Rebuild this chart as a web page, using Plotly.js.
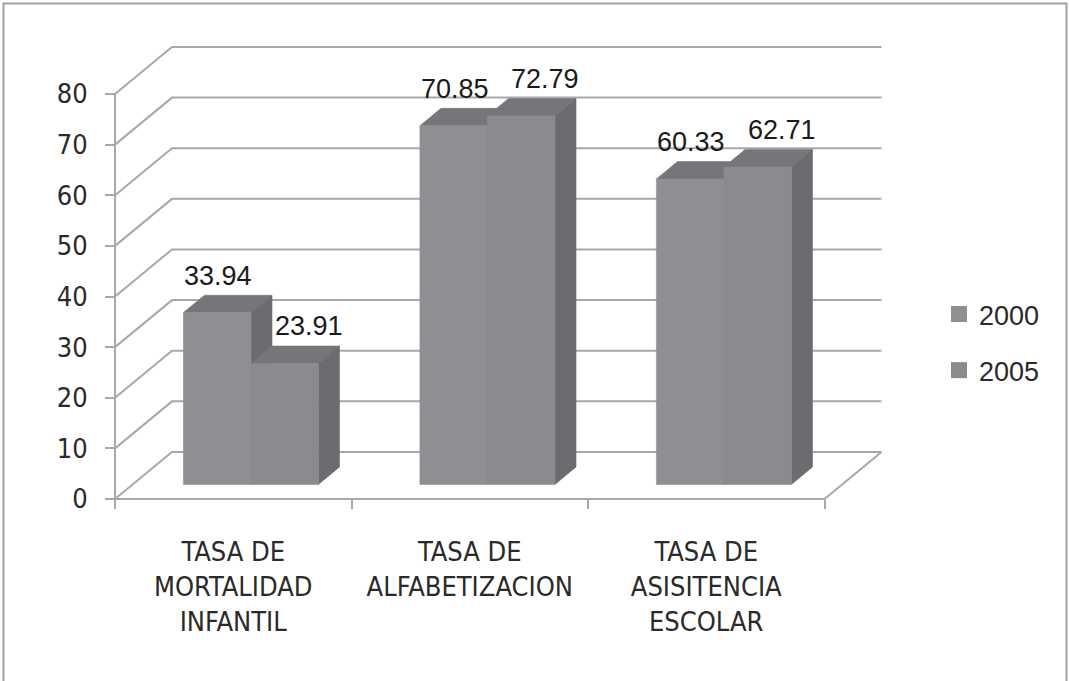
<!DOCTYPE html>
<html>
<head>
<meta charset="utf-8">
<script src="https://cdn.plot.ly/plotly-3.0.1.min.js"></script>
<style>
  html, body { margin: 0; padding: 0; background: #ffffff; }
  #chart { width: 1069px; height: 681px; }
</style>
</head>
<body>
<div id="chart"></div>
<script>
// ---------- data ----------
const categories = ['TASA DE<br>MORTALIDAD<br>INFANTIL', 'TASA DE<br>ALFABETIZACION', 'TASA DE<br>ASISITENCIA<br>ESCOLAR'];
const seriesNames = ['2000', '2005'];
const values2000 = [33.94, 70.85, 60.33];
const values2005 = [23.91, 72.79, 62.71];
const yTickValues = [0, 10, 20, 30, 40, 50, 60, 70, 80];
const yTickLabels = ['0', '10', '20', '30', '40', '50', '60', '70', '80'];

// ---------- styling / geometry (not data) ----------
const W = 1069, H = 681;
const catPx = 236.5, axisLeftPx = 115, zeroPx = 499, unitPx = 5.0625;
const X0 = -0.5 - axisLeftPx / catPx, X1 = -0.5 + (W - axisLeftPx) / catPx;
const Y0 = (zeroPx - H) / unitPx, Y1 = zeroPx / unitPx;
const DX = 57 / catPx, DY = 47 / unitPx;       // full depth of the 3D box
const F1 = 0.31, F2 = 0.68;                      // bar front / back depth fraction
const BW = 67.5 / catPx;                         // bar width in category units
const gridColor = '#a8a8a8';
const frontColors = ['#8e8f93', '#8a8b8f'];
const topColor = '#75767a';
const sideColor = '#6b6c70';
const seriesValues = [values2000, values2005];
const labelXShift = [1, 24];
const txtFont = 'Liberation Sans, Arial, sans-serif';
const narrowFont = 'Liberation Sans Narrow, DejaVu Sans Condensed, Arial Narrow, sans-serif';

const traces = [];

// back wall gridlines + left side wall
const gx = [], gy = [];
yTickValues.forEach(v => {
  gx.push(-0.5, -0.5 + DX, 2.5 + DX, null);
  gy.push(v, v + DY, v + DY, null);
});
// floor front edge + right diagonal
gx.push(-0.5, 2.5, 2.5 + DX, null);
gy.push(0, 0, DY, null);
// front vertical axis line
gx.push(-0.5, -0.5, null);
gy.push(0, yTickValues[yTickValues.length - 1], null);
traces.push({
  type: 'scatter', mode: 'lines', x: gx, y: gy,
  line: { color: gridColor, width: 2 }, hoverinfo: 'skip', showlegend: false
});

function poly(xs, ys, color) {
  return {
    type: 'scatter', mode: 'lines',
    x: xs.concat([xs[0]]), y: ys.concat([ys[0]]),
    fill: 'toself', fillcolor: color,
    line: { color: color, width: 0.6 },
    hoverinfo: 'skip', showlegend: false
  };
}

const annotations = [];
categories.forEach((c, i) => {
  seriesValues.forEach((vals, s) => {
    const v = vals[i];
    const xl = i - BW + s * BW, xr = xl + BW;
    const a1x = F1 * DX, a1y = F1 * DY, a2x = F2 * DX, a2y = F2 * DY;
    // top face
    traces.push(poly([xl + a1x, xr + a1x, xr + a2x, xl + a2x],
                     [v + a1y, v + a1y, v + a2y, v + a2y], topColor));
    // side face
    traces.push(poly([xr + a1x, xr + a2x, xr + a2x, xr + a1x],
                     [a1y, a2y, v + a2y, v + a1y], sideColor));
    // front face
    traces.push(poly([xl + a1x, xr + a1x, xr + a1x, xl + a1x],
                     [a1y, a1y, v + a1y, v + a1y], frontColors[s]));
    annotations.push({
      x: (xl + xr) / 2 + a1x, y: v + a1y, xref: 'x', yref: 'y',
      text: v.toFixed(2), showarrow: false,
      xanchor: 'center', yanchor: 'middle',
      xshift: labelXShift[s], yshift: 37,
      font: { family: txtFont, size: 27, color: '#1a1a1a' }
    });
  });
});

// legend entries
seriesNames.forEach((n, s) => {
  traces.push({
    type: 'scatter', mode: 'markers', x: [null], y: [null], name: n,
    legendgroup: n,
    marker: { symbol: 'square', size: 16, color: frontColors[s] },
    hoverinfo: 'skip'
  });
});

// dummy trace on the second x axis (category labels)
traces.push({
  type: 'scatter', mode: 'markers', x: [null], y: [null],
  xaxis: 'x2', yaxis: 'y', showlegend: false, hoverinfo: 'skip'
});

const layout = {
  width: W, height: H,
  margin: { l: 0, r: 0, t: 0, b: 0, pad: 0 },
  paper_bgcolor: '#ffffff', plot_bgcolor: 'rgba(0,0,0,0)',
  showlegend: true,
  xaxis: {
    domain: [0, 1], range: [X0, X1], anchor: 'free', position: (H - zeroPx) / H,
    showgrid: false, zeroline: false, showline: false,
    tickmode: 'array', tickvals: [-0.5, 0.5, 1.5, 2.5], ticktext: ['', '', '', ''],
    ticks: 'outside', ticklen: 9, tickwidth: 2, tickcolor: gridColor,
    showticklabels: false, fixedrange: true
  },
  xaxis2: {
    overlaying: 'x', matches: 'x', range: [X0, X1], anchor: 'free', position: (H - zeroPx) / H,
    side: 'bottom', showgrid: false, zeroline: false, showline: false,
    tickmode: 'array', tickvals: [0, 1, 2], ticktext: categories,
    ticks: '', ticklabelstandoff: 34,
    tickfont: { family: narrowFont, size: 27, color: '#2a2a2a' }, fixedrange: true
  },
  yaxis: {
    domain: [0, 1], range: [Y0, Y1], anchor: 'free', position: axisLeftPx / W,
    showgrid: false, zeroline: false, showline: false,
    tickmode: 'array', tickvals: yTickValues, ticktext: yTickLabels,
    ticks: 'outside', ticklen: 10, tickwidth: 2, tickcolor: gridColor,
    ticklabelstandoff: 12,
    tickfont: { family: narrowFont, size: 27, color: '#2a2a2a' }, fixedrange: true
  },
  legend: {
    x: 939 / W, y: 1 - 290 / H, xanchor: 'left', yanchor: 'top',
    font: { family: txtFont, size: 27, color: '#2a2a2a' },
    traceorder: 'grouped', tracegroupgap: 18, bgcolor: 'rgba(0,0,0,0)',
    itemclick: false, itemdoubleclick: false
  },
  annotations: annotations,
  shapes: [{
    type: 'rect', xref: 'paper', yref: 'paper',
    x0: 3.5 / W, x1: 1066.5 / W, y0: -0.05, y1: 1 - 3.5 / H,
    line: { color: '#a0a0a0', width: 2 }, fillcolor: 'rgba(0,0,0,0)'
  }]
};

Plotly.newPlot('chart', traces, layout, { displayModeBar: false, staticPlot: true });
</script>
</body>
</html>
